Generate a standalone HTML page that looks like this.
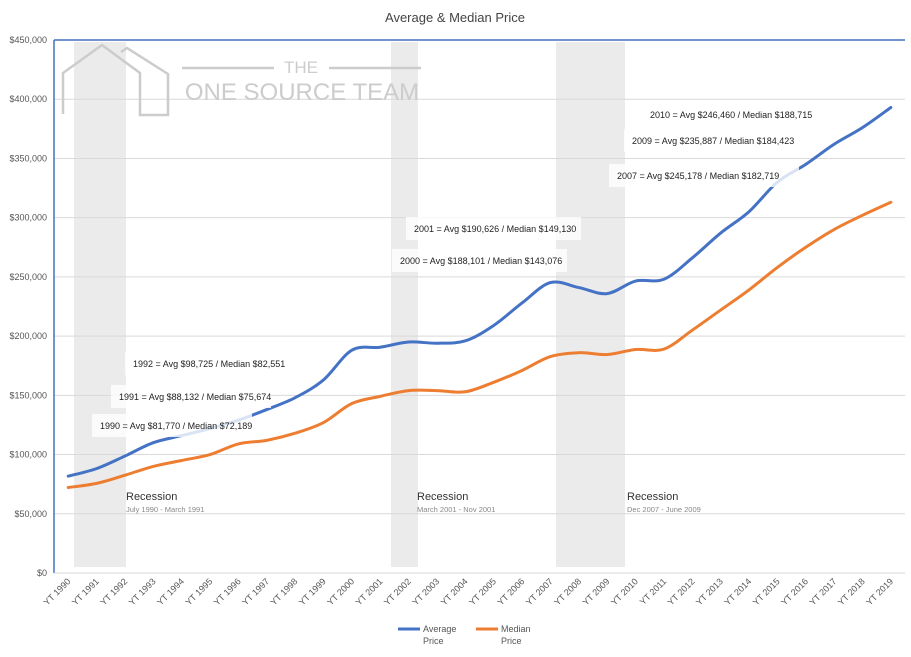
<!DOCTYPE html>
<html><head><meta charset="utf-8"><style>
body{margin:0;background:#fff;font-family:"Liberation Sans",sans-serif}
svg text{font-family:"Liberation Sans",sans-serif}
</style></head><body>
<svg id="c" width="911" height="652" xmlns="http://www.w3.org/2000/svg">
<rect width="911" height="652" fill="#fff"/>
<text x="455" y="22" font-size="13" text-anchor="middle" fill="#444">Average &amp; Median Price</text>
<g id="bands"></g>
<g id="grid"></g>
<g fill="none" stroke="#ccc" stroke-width="2.5">
<polyline points="63,114 63,73 102,45 140,73 140,115 168,115 168,74 127,48 121,52"/>
<line x1="182" y1="68" x2="274" y2="68"/><line x1="329" y1="68" x2="421" y2="68"/>
</g>
<text x="301" y="73" font-size="17" fill="#ccc" text-anchor="middle">THE</text>
<text x="302" y="100" font-size="24" fill="#ccc" text-anchor="middle">ONE SOURCE TEAM</text>
<line x1="54" y1="40" x2="54" y2="573" stroke="#4472c4" stroke-width="1.5"/>
<line x1="54" y1="40" x2="905" y2="40" stroke="#4472c4" stroke-width="1.5"/>
<g id="axes"></g>
<g id="series"></g>
<g id="notes"></g>
<g>
<line x1="398" y1="629" x2="420" y2="629" stroke="#4472c4" stroke-width="3"/>
<text x="423" y="632" font-size="9" fill="#555">Average</text><text x="423" y="644" font-size="9" fill="#555">Price</text>
<line x1="476" y1="629" x2="498" y2="629" stroke="#ed7d31" stroke-width="3"/>
<text x="501" y="632" font-size="9" fill="#555">Median</text><text x="501" y="644" font-size="9" fill="#555">Price</text>
</g>
</svg>
<script>
const categories=[];for(let y=1990;y<=2019;y++)categories.push('YT '+y);
const avgPrice=[81770,88132,98725,110000,116000,122000,129000,138000,148000,163000,188101,190626,195000,194000,196000,209000,228000,245178,241000,235887,246460,248000,266000,287000,305000,330000,345000,362000,376000,393000];
const medianPrice=[72189,75674,82551,90000,95000,100000,109000,112000,118000,127000,143076,149130,154000,154000,153000,161000,171000,182719,186000,184423,188715,189000,205000,222000,239000,258000,275000,290000,302000,313000];
const yTicks=[0,50000,100000,150000,200000,250000,300000,350000,400000,450000];
const NS='http://www.w3.org/2000/svg';
const L=54,R=905,T=40,B=573,step=(R-L)/categories.length;
const xS=i=>L+step*(i+0.5), yS=v=>B-(v/450000)*(B-T);
function mk(t,a,p){const e=document.createElementNS(NS,t);for(const k in a)e.setAttribute(k,a[k]);p.appendChild(e);return e;}
const bands=document.getElementById('bands');
[[74,126],[391,418],[556,625]].forEach(b=>{const r=mk('rect',{x:b[0],y:T+2,width:b[1]-b[0],height:B-T-8,fill:'#ebebeb'},bands);

});
const grid=document.getElementById('grid'),axes=document.getElementById('axes');
yTicks.forEach(v=>{const y=yS(v);
 if(v>0&&v<450000)mk('line',{x1:L,x2:R,y1:y,y2:y,stroke:'#d9d9d9'},grid);
 const t=mk('text',{x:47,y:y+3,'font-size':9,fill:'#555','text-anchor':'end'},axes);t.textContent='$'+v.toLocaleString('en-US');
 
 });
mk('line',{x1:L,x2:R,y1:B,y2:B,stroke:'#d9d9d9'},axes);
categories.forEach((c,i)=>{const x=xS(i)+3,y=B+9;
 const t=mk('text',{x:x,y:y,'font-size':9,fill:'#555','text-anchor':'end',transform:`rotate(-45 ${x} ${y})`},axes);t.textContent=c;
 
 });
function path(d){const p=d.map((v,i)=>[xS(i),yS(v)]);let s=`M${p[0][0]},${p[0][1]}`;
 for(let i=0;i<p.length-1;i++){const p0=p[i-1]||p[i],p1=p[i],p2=p[i+1],p3=p[i+2]||p2;
 s+=` C${p1[0]+(p2[0]-p0[0])/6},${p1[1]+(p2[1]-p0[1])/6} ${p2[0]-(p3[0]-p1[0])/6},${p2[1]-(p3[1]-p1[1])/6} ${p2[0]},${p2[1]}`;}return s;}
const sg=document.getElementById('series');
const s1=mk('path',{d:path(avgPrice),fill:'none',stroke:'#4472c4','stroke-width':3,'stroke-linecap':'round'},sg);


const s2=mk('path',{d:path(medianPrice),fill:'none',stroke:'#ed7d31','stroke-width':3,'stroke-linecap':'round'},sg);


const notes=document.getElementById('notes');
[[92,414,160,'1990 = Avg $81,770 / Median $72,189'],[111,385,160,'1991 = Avg $88,132 / Median $75,674'],[125,352,172,'1992 = Avg $98,725 / Median $82,551'],
 [392,249,175,'2000 = Avg $188,101 / Median $143,076'],[406,217,175,'2001 = Avg $190,626 / Median $149,130'],
 [609,164,190,'2007 = Avg $245,178 / Median $182,719'],[624,129,180,'2009 = Avg $235,887 / Median $184,423'],[642,103,180,'2010 = Avg $246,460 / Median $188,715']].forEach(n=>{
 mk('rect',{x:n[0],y:n[1],width:n[2],height:23,fill:'#fff','fill-opacity':0.8},notes);
 const t=mk('text',{x:n[0]+8,y:n[1]+15,'font-size':9,fill:'#222'},notes);t.textContent=n[3];
 
 });
[[126,'July 1990 - March 1991'],[417,'March 2001 -  Nov 2001'],[627,'Dec 2007 - June 2009']].forEach(r=>{
 const a=mk('text',{x:r[0],y:500,'font-size':11,fill:'#333'},notes);a.textContent='Recession';
 
 
 const b=mk('text',{x:r[0],y:512,'font-size':7.5,fill:'#888'},notes);b.textContent=r[1];
 
 });
</script>
</body></html>
